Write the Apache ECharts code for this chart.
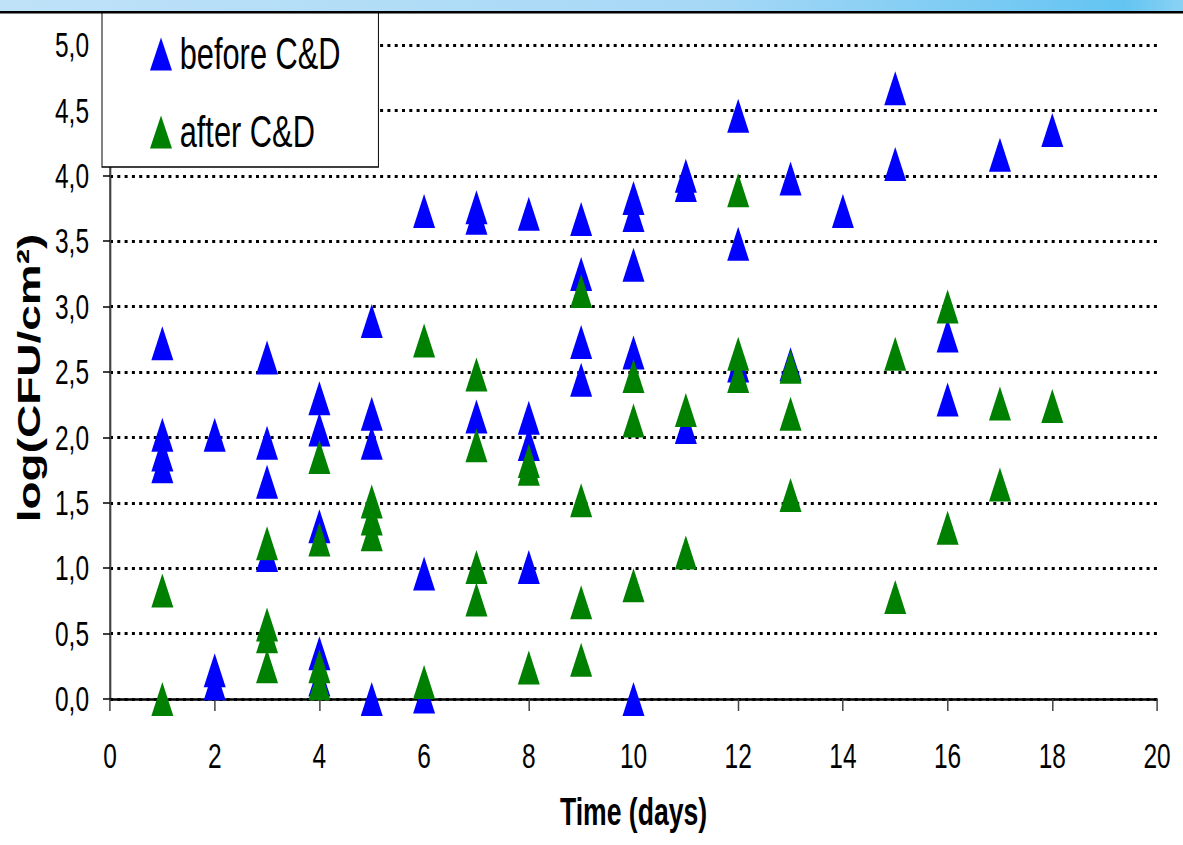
<!DOCTYPE html>
<html>
<head>
<meta charset="utf-8">
<title>log(CFU/cm²) over time</title>
<script src="https://cdn.jsdelivr.net/npm/echarts@6/dist/echarts.min.js"></script>
<style>
  html, body { margin: 0; padding: 0; background: #fff; overflow: hidden; }
  /* The chart is laid out on a wider canvas and narrowed horizontally,
     which gives the tall, condensed lettering and slim markers. */
  #chart { width: 1690px; height: 845px; transform: scaleX(0.7); transform-origin: 0 0; }
</style>
</head>
<body>
<div id="chart"></div>
<script>
// Counts per sampling day, log10(CFU/cm²), before and after cleaning & disinfection
const beforeDays = [1, 1, 1, 1, 2, 2, 2, 3, 3, 3, 3, 4, 4, 4, 4, 4, 5, 5, 5, 5,
  6, 6, 6, 7, 7, 7, 8, 8, 8, 8, 9, 9, 9, 9, 10, 10, 10, 10, 10,
  11, 11, 11, 12, 12, 12, 13, 13, 14, 15, 15, 16, 16, 17, 18];
const beforeLog = [2.72, 2.02, 1.87, 1.78, 2.02, 0.22, 0.12, 2.61, 1.96, 1.66, 1.10, 2.30, 2.06, 1.32, 0.35, 0.15, 2.89, 2.18, 1.96, 0.00,
  3.73, 0.96, 0.02, 3.76, 3.68, 2.16, 3.71, 2.15, 1.95, 1.01, 3.67, 3.25, 2.73, 2.44, 3.83, 3.70, 3.32, 2.65, 0.00,
  4.00, 3.93, 2.08, 4.46, 3.48, 2.55, 3.98, 2.56, 3.73, 4.67, 4.09, 2.78, 2.29, 4.16, 4.35];

const afterDays = [1, 1, 3, 3, 3, 3, 4, 4, 4, 4, 5, 5, 5, 6, 6, 7, 7, 7, 7, 8, 8, 8,
  9, 9, 9, 9, 10, 10, 10, 11, 11, 12, 12, 12, 13, 13, 13, 15, 15, 16, 16, 17, 17, 18];
const afterLog = [0.83, 0.00, 1.19, 0.57, 0.48, 0.25, 1.85, 1.22, 0.25, 0.12, 1.51, 1.38, 1.26, 2.74, 0.13, 2.48, 1.94, 1.01, 0.76, 1.82, 1.76, 0.24,
  3.12, 1.52, 0.74, 0.30, 2.47, 2.13, 0.87, 2.21, 1.12, 3.89, 2.64, 2.47, 2.54, 2.18, 1.56, 2.64, 0.78, 3.00, 1.31, 2.26, 1.64, 2.24];

const seriesNames = ['before C&D', 'after C&D'];
const xTitle = 'Time (days)';
const yTitle = 'log(CFU/cm²)';

const pairs = (xs, ys) => xs.map((x, i) => [x, ys[i]]);

// horizontal squeeze applied by the CSS transform above
const SX = 0.7;
const FONT = '"Liberation Sans", Arial, sans-serif';
const W = 1183 / SX;

const chart = echarts.init(document.getElementById('chart'), null, { renderer: 'svg', width: W, height: 845 });

chart.setOption({
  backgroundColor: '#ffffff',
  animation: false,
  grid: { left: 110 / SX, right: 26 / SX, top: 45, bottom: 146, containLabel: false },
  legend: {
    orient: 'vertical',
    left: 102 / SX,
    top: 10,
    icon: 'triangle',
    itemWidth: 22 / SX,
    itemHeight: 33,
    itemGap: 34,
    padding: [22, 54, 13, 48 / SX],
    backgroundColor: '#ffffff',
    borderColor: '#000000',
    borderWidth: 1.4,
    borderRadius: 0,
    textStyle: { fontFamily: FONT, fontSize: 44, color: '#000', lineHeight: 33, padding: [0, 0, 0, 6] },
    data: seriesNames
  },
  xAxis: {
    type: 'value',
    min: 0, max: 20, interval: 2,
    name: xTitle,
    nameLocation: 'middle',
    nameGap: 94,
    nameTextStyle: { fontFamily: FONT, fontWeight: 'bold', fontSize: 38, color: '#000' },
    axisLine: { onZero: false, lineStyle: { color: '#000', width: 2.5 } },
    axisTick: { show: true, length: 12, inside: false, lineStyle: { color: '#444', width: 1.5 / SX } },
    axisLabel: { margin: 39, fontFamily: FONT, fontSize: 35, color: '#000' },
    splitLine: { show: false }
  },
  yAxis: [{
    type: 'value',
    min: 0, max: 5, interval: 0.5,
    axisLine: { show: true, onZero: false, lineStyle: { color: '#000', width: 2 / SX } },
    axisTick: { show: true, length: 7 / SX, inside: false, lineStyle: { color: '#000', width: 1.5 } },
    axisLabel: {
      margin: 21 / SX, fontFamily: FONT, fontSize: 35, color: '#000',
      formatter: v => v.toFixed(1).replace('.', ',')
    },
    splitLine: { show: true, lineStyle: { color: '#000', width: 3, type: [3 / SX, 4.3 / SX] } }
  }, {
    type: 'value',
    position: 'right',
    min: 0, max: 5, interval: 0.5,
    axisLine: { show: true, lineStyle: { color: '#666', width: 1.5 / SX } },
    axisTick: { show: false },
    axisLabel: { show: false },
    splitLine: { show: false }
  }],
  series: [{
    name: seriesNames[0],
    type: 'scatter',
    symbol: 'triangle',
    symbolSize: [22 / SX, 34],
    itemStyle: { color: '#0000ff', opacity: 1 },
    z: 3,
    data: pairs(beforeDays, beforeLog)
  }, {
    name: seriesNames[1],
    type: 'scatter',
    symbol: 'triangle',
    symbolSize: [22 / SX, 34],
    itemStyle: { color: '#008000', opacity: 1 },
    z: 4,
    data: pairs(afterDays, afterLog)
  }],
  graphic: [
    {
      type: 'rect', left: 0, top: 0, z: 100,
      shape: { width: W, height: 11 },
      style: {
        fill: new echarts.graphic.LinearGradient(0, 0, 1, 0, [
          { offset: 0, color: '#bfe2f8' },
          { offset: 0.6, color: '#a6d8f6' },
          { offset: 0.95, color: '#63c4f2' },
          { offset: 1, color: '#8ad2f4' }
        ])
      }
    },
    {
      type: 'rect', left: 0, top: 11, z: 100,
      shape: { width: W, height: 2.5 },
      style: { fill: '#000' }
    },
    {
      type: 'text',
      x: 29 / SX, y: 378,
      rotation: Math.PI / 2,
      z: 100,
      style: {
        text: yTitle,
        font: 'bold 46px "Liberation Sans", Arial, sans-serif',
        fill: '#000',
        textAlign: 'center',
        textVerticalAlign: 'middle'
      }
    }
  ]
});
</script>
</body>
</html>
